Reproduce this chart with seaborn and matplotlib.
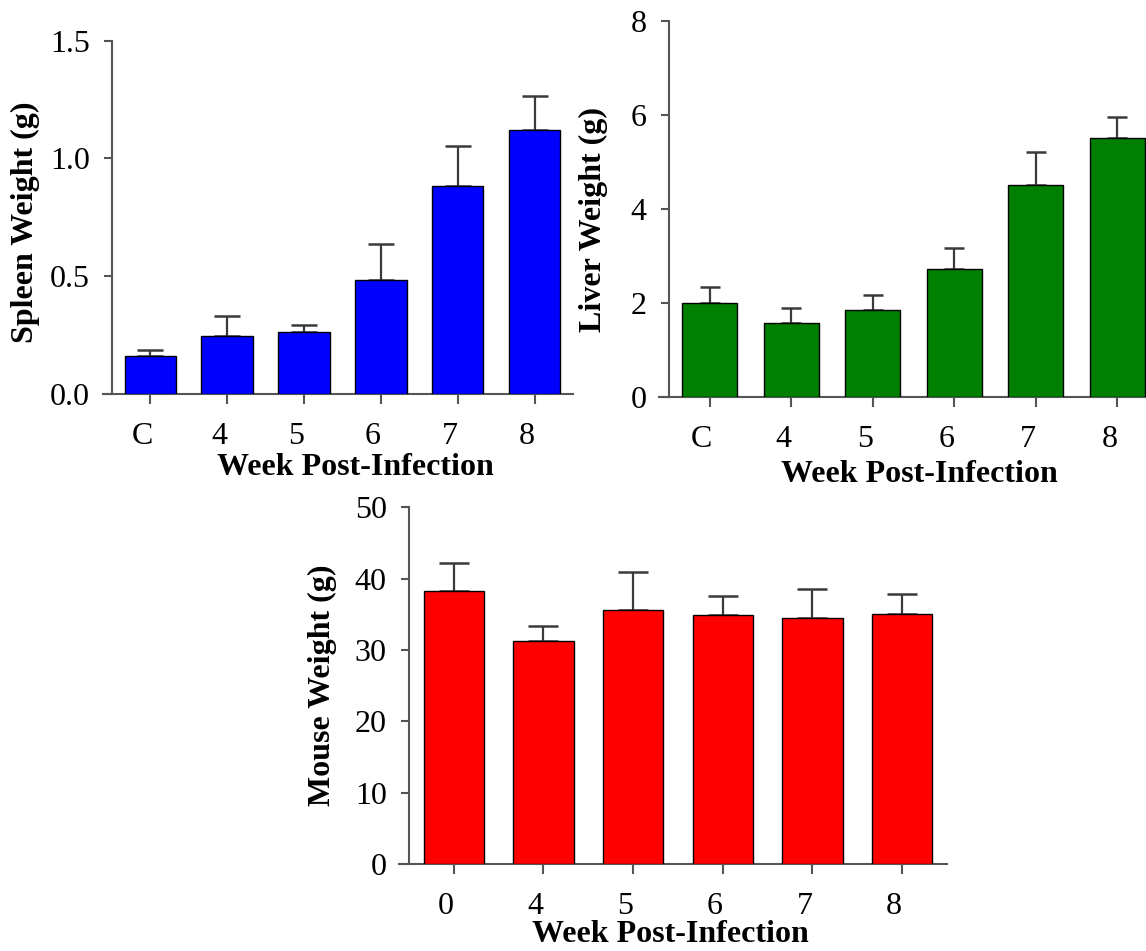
import numpy as np
import pandas as pd
import matplotlib
matplotlib.use("Agg")
import matplotlib.pyplot as plt
import matplotlib.transforms as mtransforms
import seaborn as sns

# ---- data ----
spleen_weeks = ["C", "4", "5", "6", "7", "8"]
spleen_mean = [0.160, 0.245, 0.262, 0.482, 0.881, 1.120]
spleen_sem = [0.027, 0.086, 0.032, 0.156, 0.171, 0.144]

liver_weeks = ["C", "4", "5", "6", "7", "8"]
liver_mean = [2.00, 1.57, 1.86, 2.73, 4.52, 5.51]
liver_sem = [0.34, 0.33, 0.31, 0.43, 0.70, 0.44]

mouse_weeks = ["0", "4", "5", "6", "7", "8"]
mouse_mean = [38.2, 31.2, 35.6, 34.9, 34.5, 35.0]
mouse_sem = [4.05, 2.2, 5.3, 2.7, 4.1, 2.9]

spleen_ticks = [0.0, 0.5, 1.0, 1.5]
liver_ticks = [0, 2, 4, 6, 8]
mouse_ticks = [0, 10, 20, 30, 40, 50]

sns.set_style("ticks")
plt.rcParams["font.family"] = ["Liberation Serif", "DejaVu Serif"]
plt.rcParams["text.color"] = "black"
plt.rcParams["axes.labelcolor"] = "black"

W, H = 1146, 951
fig = plt.figure(figsize=(W / 100, H / 100), dpi=100)

AXCOL = "#555555"


def panel(rect, weeks, mean, sem, color, ymax, yticks, yfmt, ylabel,
          xlab_xy, ylab_xy, capsize, xleft):
    ax = fig.add_axes(rect)
    df = pd.DataFrame({"week": weeks, "val": mean})
    sns.barplot(data=df, x="week", y="val", order=weeks, color=color,
                saturation=1, width=0.67, edgecolor="black", linewidth=1.0,
                errorbar=None, ax=ax, zorder=3)
    ax.errorbar(x=np.arange(len(weeks)), y=mean,
                yerr=[np.zeros(len(weeks)), sem], fmt="none",
                ecolor="#3a3a3a", elinewidth=1.6, capsize=capsize,
                capthick=1.8, zorder=2)
    ax.set_xlim(xleft, 5.5)
    ax.set_ylim(0, ymax)
    ax.set_yticks(yticks)
    ax.set_yticklabels([yfmt.format(t) for t in yticks])
    for s in ["top", "right"]:
        ax.spines[s].set_visible(False)
    ax.spines["left"].set_position(("data", -0.5))
    for s in ["left", "bottom"]:
        ax.spines[s].set_color(AXCOL)
        ax.spines[s].set_linewidth(1.5)
    ax.tick_params(axis="x", direction="out", length=7, width=1.5,
                   color=AXCOL, labelcolor="black", labelsize=23, pad=13.5)
    ax.tick_params(axis="y", direction="out", length=5.5, width=1.5,
                   color=AXCOL, labelcolor="black", labelsize=23, pad=10.5)
    off = mtransforms.ScaledTranslation(-0.08, 0, fig.dpi_scale_trans)
    for lab in ax.get_xticklabels():
        lab.set_transform(lab.get_transform() + off)
    ax.set_xlabel("Week Post-Infection", fontsize=23, fontweight="bold")
    ax.set_ylabel(ylabel, fontsize=23, fontweight="bold")
    ax.xaxis.set_label_coords(*xlab_xy)
    ax.xaxis.label.set_va("center")
    ax.yaxis.set_label_coords(*ylab_xy)
    ax.yaxis.label.set_va("center")
    ax.set_facecolor("none")
    return ax


panel([103 / W, 1 - 394 / H, 470 / W, 353.3 / H], spleen_weeks, spleen_mean,
      spleen_sem, "#0000FF", 1.5, spleen_ticks, "{:.1f}", "Spleen Weight (g)",
      (0.538, -0.207), (-0.164, 0.487), 9.7, -0.5 - 9 / 77)

panel([659 / W, 1 - 397 / H, 499 / W, 376 / H], liver_weeks, liver_mean,
      liver_sem, "#008000", 8, liver_ticks, "{:d}", "Liver Weight (g)",
      (0.521, -0.207), (-0.131, 0.472), 7.5, -0.5 - 10 / 81.4)

panel([399 / W, 1 - 864 / H, 548 / W, 356.7 / H], mouse_weeks, mouse_mean,
      mouse_sem, "#FF0000", 50, mouse_ticks, "{:d}", "Mouse Weight (g)",
      (0.495, -0.199), (-0.1405, 0.502), 10.5, -0.5 - 10 / 89.7)

fig.savefig("out.png", dpi=100, facecolor="white")
